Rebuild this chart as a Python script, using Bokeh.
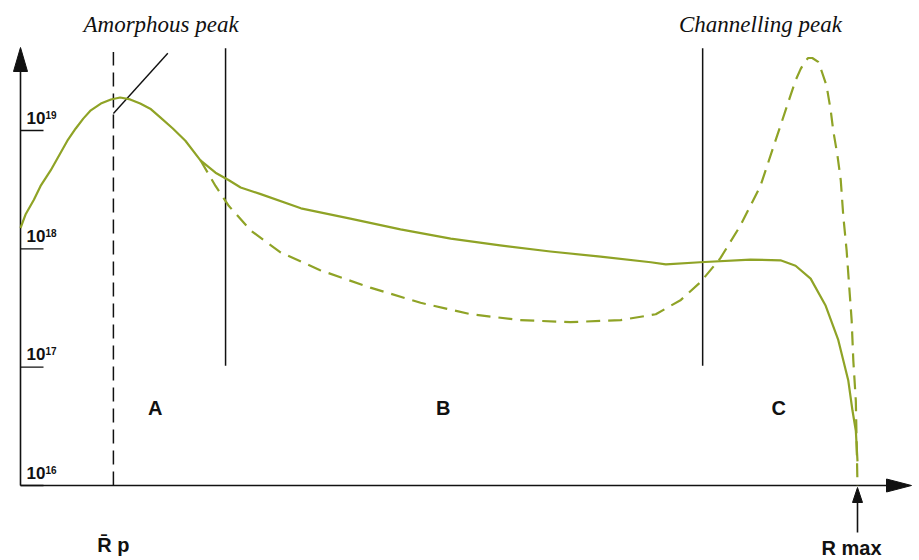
import numpy as np
from bokeh.plotting import figure
from bokeh.models import Range1d
from bokeh.core.properties import value
from bokeh.embed import file_html
from bokeh.resources import INLINE

# ---------------- data (depth in arbitrary units, 0 = surface, 100 = Rmax) -------------
amorph_depth = [0.0, 0.6, 1.6, 2.4, 3.6, 5.6, 6.6, 7.5, 8.4, 9.6, 10.8, 11.9, 13.1, 14.3,
                15.5, 16.7, 18.2, 19.7, 21.5, 23.3, 24.9, 26.3, 28.7, 33.5, 39.4, 45.4,
                51.4, 57.3, 63.3, 69.3, 75.3, 77.1, 81.2, 87.2, 90.8, 92.6, 94.4, 96.2,
                97.7, 98.9, 99.4, 99.8, 100.0]
amorph_conc = [1.5e18, 1.95e18, 2.6e18, 3.4e18, 4.6e18, 8.2e18, 1.04e19, 1.26e19, 1.48e19,
               1.69e19, 1.83e19, 1.9e19, 1.83e19, 1.69e19, 1.53e19, 1.29e19, 1.04e19,
               8.2e18, 5.6e18, 4.4e18, 3.8e18, 3.3e18, 2.9e18, 2.2e18, 1.8e18, 1.46e18,
               1.22e18, 1.07e18, 9.5e17, 8.6e17, 7.7e17, 7.4e17, 7.7e17, 8.1e17, 8.0e17,
               7.2e17, 5.6e17, 3.3e17, 1.7e17, 7.7e16, 4.3e16, 2.9e16, 1.6e16]

chan_depth = [21.5, 23.3, 24.9, 27.5, 31.1, 35.8, 41.8, 47.8, 53.8, 59.7, 65.7, 71.7, 75.9,
              78.9, 81.2, 83.6, 86.0, 88.4, 90.2, 90.8, 92.0, 92.6, 93.2, 93.7, 94.1, 94.6,
              95.3, 95.7, 96.3, 96.8, 97.1, 97.6, 98.0, 98.3, 98.7, 99.0, 99.3, 99.5, 99.8,
              100.0]
chan_conc = [5.6e18, 3.4e18, 2.3e18, 1.43e18, 9.3e17, 6.6e17, 4.7e17, 3.5e17, 2.8e17,
             2.5e17, 2.4e17, 2.5e17, 2.8e17, 3.7e17, 5.2e17, 8.3e17, 1.57e18, 3.4e18,
             8.2e18, 1.1e19, 1.98e19, 2.65e19, 3.3e19, 3.8e19, 4.1e19, 4.1e19, 3.8e19,
             3.2e19, 2.4e19, 1.48e19, 1.0e19, 6.2e18, 3.8e18, 1.9e18, 9.7e17, 4.9e17,
             2.5e17, 1.14e17, 5.2e16, 1.0e16]

decades = [16, 17, 18, 19]
tick_base = ["10", "10", "10", "10"]
tick_exp = ["16", "17", "18", "19"]

rp_depth = 11.1
rmax_depth = 100.0
boundary_depth = [24.5, 81.5]
boundary_top = 4.6e19
boundary_bottom = 1.03e17
region_labels = ["A", "B", "C"]
region_depth = [16.1, 50.5, 90.6]
region_conc = 4.5e16

peak_labels = ["Amorphous peak", "Channelling peak"]
peak_label_depth = [16.8, 88.4]
pointer_depth = [11.1, 17.6]
pointer_conc = [1.39e19, 4.5e19]

# ---------------- layout ----------------
PX_W, PX_H = 919, 560
X_LO, X_HI = -20 / 8.37, 899 / 8.37
V_LO, V_HI = 16 - 75 / 118.33, 16 + 485 / 118.33
dx_px = (X_HI - X_LO) / PX_W
dv_px = (V_HI - V_LO) / PX_H

CURVE = "#8fa326"
INK = "#111111"

p = figure(width=PX_W, height=PX_H, x_range=Range1d(X_LO, X_HI),
           y_range=Range1d(10 ** V_LO, 10 ** V_HI), y_axis_type="log",
           output_backend="svg", toolbar_location=None, min_border=0)
p.axis.visible = False
p.grid.visible = False
p.outline_line_color = None
p.background_fill_color = "white"
p.border_fill_color = "white"

# axes drawn as arrows
y_axis_tip = 10 ** (decades[0] + (485 - 47) * dv_px)
x_axis_tip = (911 - 20) * dx_px
base_conc = 10.0 ** decades[0]

y_head_len, y_head_w = 24, 14
x_head_len, x_head_w = 25, 13
y_head_base = 10 ** (np.log10(y_axis_tip) - y_head_len * dv_px)
x_head_base = x_axis_tip - x_head_len * dx_px

p.line([0, 0], [base_conc, y_head_base], line_color=INK, line_width=1.6)
p.line([0, x_head_base], [base_conc, base_conc], line_color=INK, line_width=1.6)
p.patch([0 - y_head_w / 2 * dx_px, 0, 0 + y_head_w / 2 * dx_px],
        [y_head_base, y_axis_tip, y_head_base], fill_color=INK, line_color=INK)
p.patch([x_head_base, x_axis_tip, x_head_base],
        [10 ** (decades[0] + x_head_w / 2 * dv_px), base_conc,
         10 ** (decades[0] - x_head_w / 2 * dv_px)], fill_color=INK, line_color=INK)

# ticks and labels
tick_conc = [10.0 ** d for d in decades]
p.segment(x0=[0] * 4, y0=tick_conc, x1=[23 * dx_px] * 4, y1=tick_conc,
          line_color=INK, line_width=1.4)
p.text(x=[0] * 4, y=tick_conc, text=tick_base, x_offset=6, y_offset=-13,
       text_font=value("Liberation Sans"), text_font_style="bold",
       text_font_size="17px", text_color=INK, text_baseline="middle", text_align="left")
p.text(x=[0] * 4, y=tick_conc, text=tick_exp, x_offset=25, y_offset=-16,
       text_font=value("Liberation Sans"), text_font_style="bold",
       text_font_size="10px", text_color=INK, text_baseline="middle", text_align="left")

# vertical lines
p.line([rp_depth, rp_depth], [base_conc, boundary_top], line_color=INK, line_width=1.5,
       line_dash="14 7")
p.segment(x0=boundary_depth, y0=[boundary_bottom] * 2, x1=boundary_depth,
          y1=[boundary_top * 1.08, boundary_top * 1.08], line_color=INK, line_width=1.5)
p.line(pointer_depth, pointer_conc, line_color=INK, line_width=1.4)

# curves
p.line(amorph_depth, amorph_conc, line_color=CURVE, line_width=2.2, line_join="round")
p.line(chan_depth, chan_conc, line_color=CURVE, line_width=2.2, line_dash="14 8",
       line_join="round")

# texts
peak_label_conc = 10 ** (decades[0] + (485 - 24) * dv_px)
p.text(x=peak_label_depth, y=[peak_label_conc] * 2, text=peak_labels,
       text_font=value("Liberation Serif"), text_font_style="italic",
       text_font_size="23px", text_color=INK, text_align="center", text_baseline="middle")
p.text(x=region_depth, y=[region_conc] * 3, text=region_labels,
       text_font=value("Liberation Sans"), text_font_style="bold",
       text_font_size="20px", text_color=INK, text_align="center", text_baseline="middle")

rp_label_conc = 10 ** (decades[0] - (544 - 485) * dv_px)
rmax_label_conc = 10 ** (decades[0] - (547 - 485) * dv_px)
p.text(x=[rp_depth], y=[rp_label_conc], text=["R\u0304 p"],
       text_font=value("Liberation Sans"), text_font_style="bold",
       text_font_size="20px", text_color=INK, text_align="center", text_baseline="middle")
p.text(x=[rmax_depth], y=[rmax_label_conc], text=["R max"], x_offset=-6,
       text_font=value("Liberation Sans"), text_font_style="bold",
       text_font_size="20px", text_color=INK, text_align="center", text_baseline="middle")

# Rmax arrow
rm_tip = 10 ** (decades[0] - 2 * dv_px)
rm_tail = 10 ** (decades[0] - 47 * dv_px)
rm_head_base = 10 ** (decades[0] - 17 * dv_px)
p.line([rmax_depth, rmax_depth], [rm_tail, rm_head_base], line_color=INK, line_width=1.6)
p.patch([rmax_depth - 5 * dx_px, rmax_depth, rmax_depth + 5 * dx_px],
        [rm_head_base, rm_tip, rm_head_base], fill_color=INK, line_color=INK)

open("out.html", "w").write(file_html(p, INLINE))
